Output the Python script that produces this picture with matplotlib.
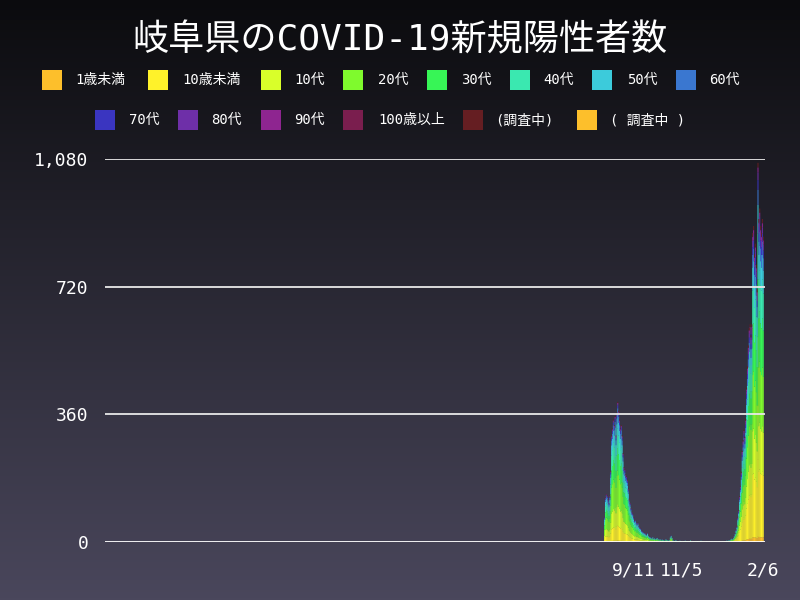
import numpy as np
import pandas as pd
import matplotlib
matplotlib.use("Agg")
import matplotlib.pyplot as plt
from matplotlib.patches import Rectangle

plt.rcParams['font.family'] = ['DejaVu Sans Mono', 'Noto Sans CJK JP']

# Data
title = "岐阜県のCOVID-19新規陽性者数"
age_groups = ["1歳未満", "10歳未満", "10代", "20代", "30代", "40代", "50代", "60代",
              "70代", "80代", "90代", "100歳以上", "(調査中)", "( 調査中 )"]
colors = ["#fdbf2b", "#fff22a", "#d9ff2a", "#7ffa2d", "#37f556", "#3ae8b0", "#3ccbdb",
          "#3a77d0", "#3a35c0", "#6e2fa8", "#8e2590", "#7a1e4e", "#651e22", "#fdbf2b"]

start_date = "2021-08-08"
daily_total = [
    0, 70, 125, 135, 130, 120, 110,            # Aug 8-14
    130, 200, 300, 320, 345, 330, 355,         # Aug 15-21
    300, 365, 395, 370, 345, 320, 330,         # Aug 22-28
    300, 250, 210, 205, 190, 185, 175,         # Aug 29 - Sep 4
    150, 120, 110, 95, 85, 80, 70,             # Sep 5-11
    60, 62, 55, 50, 54, 45, 40,                # Sep 12-18
    38, 32, 30, 28, 26, 25, 22,                # Sep 19-25
    20, 25, 18, 15, 14, 12, 10,                # Sep 26 - Oct 2
    14, 9, 11, 8, 10, 12, 7,                   # Oct 3-9
    9, 6, 8, 5, 7, 6, 4,                       # Oct 10-16
    5, 8, 6, 5, 4, 6, 14,                      # Oct 17-23
    18, 12, 5, 4, 3, 5, 4,                     # Oct 24-30
    3, 3, 2, 4, 3, 2, 1,                       # Oct 31 - Nov 6
    3, 2, 4, 2, 3, 1, 2,                       # Nov 7-13
    3, 5, 2, 1, 2, 3, 1,                       # Nov 14-20
    2, 1, 3, 2, 1, 2, 4,                       # Nov 21-27
    1, 2, 1, 1, 0, 2, 1,                       # Nov 28 - Dec 4
    0, 1, 2, 0, 1, 1, 0,                       # Dec 5-11
    1, 2, 0, 1, 0, 1, 2,                       # Dec 12-18
    1, 0, 1, 2, 1, 3, 2,                       # Dec 19-25
    4, 3, 5, 4, 6, 8, 10,                      # Dec 26 - Jan 1
    8, 12, 18, 25, 35, 45, 70,                 # Jan 2-8
    90, 130, 160, 200, 260, 290, 320,          # Jan 9-15
    300, 350, 440, 500, 560, 610, 620,         # Jan 16-22
    590, 620, 880, 900, 820, 850, 790,         # Jan 23-29
    720, 1080, 920, 950, 900, 880, 920,        # Jan 30 - Feb 5
    870,                                       # Feb 6
]

# age composition of each wave (fractions of the daily total)
share_wave5 = [0.01, 0.11, 0.15, 0.24, 0.16, 0.14, 0.10, 0.045, 0.02, 0.01, 0.008, 0.0, 0.007, 0.0]
share_wave6 = [0.015, 0.20, 0.14, 0.18, 0.15, 0.12, 0.075, 0.04, 0.025, 0.02, 0.012, 0.002, 0.011, 0.0]
wave6_from = "2021-12-01"

tick_dates = ["2021-09-11", "2021-11-05", "2022-02-06"]
tick_labels = ["9/11", "11/5", "2/6"]
y_ticks = [0, 360, 720, 1080]
x_range = ["2020-01-17", "2022-02-08"]

# Figure + gradient background
fig = plt.figure(figsize=(8, 6), dpi=100)
bg = fig.add_axes([0, 0, 1, 1], zorder=-10)
top_c = np.array([11, 11, 14]) / 255
bot_c = np.array([74, 71, 92]) / 255
t = np.linspace(0, 1, 300)[:, None]
grad = (top_c[None, :] * (1 - t) + bot_c[None, :] * t)[:, None, :]
bg.imshow(grad, aspect='auto', extent=[0, 1, 0, 1])
bg.axis('off')

ax = fig.add_axes([105 / 800, 58 / 600, 660 / 800, 383 / 600])
ax.set_facecolor('none')

dates = pd.date_range(start_date, periods=len(daily_total))
totals = np.array(daily_total, dtype=float)
in_wave6 = dates >= pd.Timestamp(wave6_from)

bottom = np.zeros(len(dates))
for i, (name, c) in enumerate(zip(age_groups, colors)):
    vals = np.where(in_wave6, totals * share_wave6[i], totals * share_wave5[i])
    bars = ax.bar(dates, vals, bottom=bottom, width=1.15, color=c, linewidth=0, zorder=2)
    for b in bars:
        b.set_snap(False)
    bottom += vals

for v in y_ticks:
    ax.axhline(v, color='#e8e8e8' if v else 'white', linewidth=1.3, zorder=3)

ax.set_xlim(pd.Timestamp(x_range[0]), pd.Timestamp(x_range[1]))
ax.set_ylim(0, y_ticks[-1])
ax.set_xticks(pd.to_datetime(tick_dates))
ax.set_xticklabels(tick_labels)
ax.set_yticks(y_ticks)
ax.set_yticklabels([f"{v:,}" for v in y_ticks])
ax.tick_params(axis='both', length=0, colors='white', labelsize=13)
ax.tick_params(axis='y', pad=12)
ax.tick_params(axis='x', pad=14)
for s in ax.spines.values():
    s.set_visible(False)

# Title
fig.text(0.5, 1 - 40 / 600, title, ha='center', va='center', color='white', fontsize=26)

# Legend (two rows)
patch_x = [42, 148, 261, 343, 427, 510, 592, 676, 95, 178, 261, 343, 463, 577]
text_x = [75, 182, 294, 378, 461, 543, 627, 709, 129, 211, 294, 378, 495, 610]
row_y = [80] * 8 + [120] * 6
for i, name in enumerate(age_groups):
    fig.add_artist(Rectangle((patch_x[i] / 800, 1 - (row_y[i] + 10) / 600), 20 / 800, 20 / 600,
                             transform=fig.transFigure, facecolor=colors[i], edgecolor='none'))
    fig.text(text_x[i] / 800, 1 - row_y[i] / 600, name, ha='left', va='center',
             color='white', fontsize=10)

fig.savefig("out.png", dpi=100)
